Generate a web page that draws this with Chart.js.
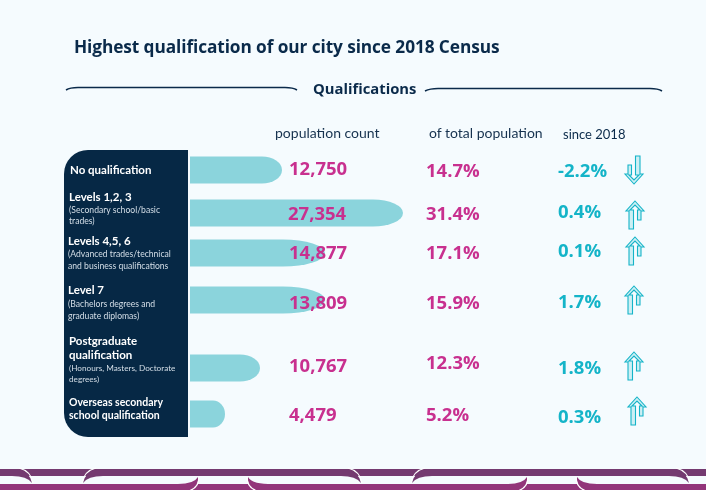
<!DOCTYPE html>
<html>
<head>
<meta charset="utf-8">
<script src="https://cdn.jsdelivr.net/npm/chart.js@4"></script>
<style>
  html, body { margin: 0; padding: 0; background: #f5fbfe; }
  #page { position: relative; width: 706px; height: 490px; overflow: hidden; font-family: Lato, sans-serif; }
  #panel { position: absolute; left: 64px; top: 150px; width: 124px; height: 287px; background: #062845; border-radius: 24px 0 0 24px; }
  canvas { position: absolute; left: 0; top: 0; }
  svg { position: absolute; left: 0; top: 0; }
  .t { position: absolute; white-space: nowrap; transform: translateY(-50%); line-height: 1; }
  .head { font-family: Lato, sans-serif; color: #16324f; font-size: 14px; }
  .name { color: #fff; font-weight: 700; font-size: 11.5px; }
  .note { color: #d5dfe8; font-size: 8.6px; }
  .num { font-family: "Open Sans", sans-serif; font-weight: 700; font-size: 18.5px; }
</style>
</head>
<body>
<div id="page">
  <div id="panel"></div>
  <canvas id="c" width="706" height="490"></canvas>
  <svg id="deco" width="706" height="490"></svg>
  <div id="texts"></div>
</div>
<script>
const title = 'Highest qualification of our city since 2018 Census';
const section = 'Qualifications';
const columnHeads = ['population count', 'of total population', 'since 2018'];
const categories = ['No qualification', 'Levels 1,2, 3', 'Levels 4,5, 6', 'Level 7', 'Postgraduate\nqualification', 'Overseas secondary\nschool qualification'];
const categoryNotes = ['', '(Secondary school/basic\ntrades)', '(Advanced trades/technical\nand business qualifications', '(Bachelors degrees and\ngraduate diplomas)', '(Honours, Masters, Doctorate\ndegrees)', ''];
const populationCounts = [12750, 27354, 14877, 13809, 10767, 4479];
const totalShares = [14.7, 31.4, 17.1, 15.9, 12.3, 5.2];
const changes = [-2.2, 0.4, 0.1, 1.7, 1.8, 0.3];
// bar lengths as drawn in the picture, they do not follow the printed counts exactly
const barLengths = [11815, 27354, 17337, 17337, 8990, 4495];

// layout of the rows, they are not evenly spaced in the original
const rowSlots = [20, 63, 103, 150, 218, 264];
const tipWidths = [20, 30, 42, 42, 20, 12];
const countTops = [168, 213, 252, 302, 365, 414];
const shareTops = [170, 213, 252, 302, 362, 414];
const changeTops = [170, 211, 250, 301, 367, 416];
const arrowTops = [170, 215, 251, 300, 366, 411];
const arrowLefts = [634, 635, 635, 634, 634, 637];
const nameTops = [[170], [197], [241], [290], [341, 355], [402, 415]];
const noteTops = [[], [210, 221], [254, 266], [304, 316], [368, 379], []];
const nameLefts = [70, 69, 68, 68, 69, 69];

const NAVY = '#0a2a4a', BAR = '#8bd4dc', PINK = '#c8308f', TEAL = '#14b4c8';

const tipBars = {
  id: 'tipBars',
  afterDatasetsDraw(chart) {
    const ctx = chart.ctx;
    chart.getDatasetMeta(0).data.forEach((bar, i) => {
      const rx = tipWidths[i], ry = bar.height / 2;
      ctx.beginPath();
      ctx.moveTo(bar.base, bar.y - ry);
      ctx.lineTo(bar.x - rx, bar.y - ry);
      ctx.ellipse(bar.x - rx, bar.y, rx, ry, 0, -Math.PI / 2, Math.PI / 2);
      ctx.lineTo(bar.base, bar.y + ry);
      ctx.closePath();
      ctx.fillStyle = BAR;
      ctx.fill();
    });
  }
};

new Chart(document.getElementById('c'), {
  type: 'bar',
  data: {
    datasets: [{
      data: barLengths.map((x, i) => ({ x: x, y: rowSlots[i] })),
      backgroundColor: 'transparent',
      barThickness: 27
    }]
  },
  options: {
    indexAxis: 'y',
    responsive: false,
    animation: false,
    events: [],
    layout: { padding: { left: 190, right: 303, top: 150, bottom: 53 } },
    plugins: { legend: { display: false }, title: { display: false }, tooltip: { enabled: false } },
    scales: {
      x: { type: 'linear', display: false, min: 0, max: 27354 },
      y: { type: 'linear', display: false, min: 0, max: 287, reverse: true, offset: false }
    }
  },
  plugins: [tipBars]
});

// text
const texts = document.getElementById('texts');
function put(str, x, y, cls, css) {
  const d = document.createElement('div');
  d.className = 't ' + cls;
  d.textContent = str;
  d.style.left = x + 'px';
  d.style.top = y + 'px';
  if (css) Object.assign(d.style, css);
  texts.appendChild(d);
}
put(title, 74, 47, '', { fontFamily: '"Open Sans"', fontWeight: 700, fontSize: '17.3px', color: NAVY, letterSpacing: '-0.1px' });
put(section, 313, 88, '', { fontFamily: '"Open Sans"', fontWeight: 700, fontSize: '14.8px', color: NAVY });
put(columnHeads[0], 275, 133, 'head');
put(columnHeads[1], 429, 133, 'head');
put(columnHeads[2], 563, 134, 'head', { fontSize: '13px', color: NAVY });

categories.forEach((name, i) => {
  const small = i === 5 ? { fontSize: '10.5px' } : null;
  name.split('\n').forEach((line, j) => put(line, nameLefts[i], nameTops[i][j], 'name', small));
  const noteCss = i === 4 ? { fontSize: '8.2px' } : null;
  if (categoryNotes[i]) categoryNotes[i].split('\n').forEach((line, j) => put(line, nameLefts[i], noteTops[i][j], 'note', noteCss));
  put(populationCounts[i].toLocaleString('en-US'), i === 1 ? 288 : 289, countTops[i], 'num', { color: PINK });
  put(totalShares[i].toFixed(1) + '%', 426, shareTops[i], 'num', { color: PINK });
  put(changes[i].toFixed(1) + '%', 558, changeTops[i], 'num', { color: TEAL });
});

// rules, arrows and the ribbon at the bottom
let svg = '';
svg += `<path d="M66 90 Q70 87.5 78 87.5 L285 87.5 Q293 87.5 297 90" fill="none" stroke="${NAVY}" stroke-width="1.6"/>`;
svg += `<path d="M425 91 Q430 88.5 438 88.5 L650 88.5 Q658 88.5 662 91" fill="none" stroke="${NAVY}" stroke-width="1.6"/>`;

changes.forEach((v, i) => {
  const rot = v < 0 ? 180 : 0;
  svg += `<g transform="translate(${arrowLefts[i]},${arrowTops[i]}) rotate(${rot})" fill="#cdeff4" stroke="${TEAL}" stroke-linejoin="miter">
    <path d="M0 -14 L9 -4 L6 -4 L6 5 L2.5 5 L2.5 -5 L5 -5 L0 -10 L-5 -5 L-1.5 -5 L-1.5 14 L-6 14 L-6 -4 L-9 -4 Z" stroke-width="1.1"/>
  </g>`;
});

const UP = '#743a70', LOW = '#92357a';
svg += `<rect x="0" y="469" width="706" height="7" fill="${UP}"/>`;
svg += `<rect x="0" y="484" width="706" height="6" fill="${LOW}"/>`;
[[-246, 32], [83, 361], [412, 689]].forEach(([l, r]) => {
  svg += `<path d="M${l} 483 Q${l + 2} 472 ${l + 15} 469 L${r - 15} 469 Q${r - 2} 472 ${r} 483 Q${r - 5} 476 ${r - 20} 476 L${l + 20} 476 Q${l + 5} 476 ${l} 483 Z" fill="${UP}"/>`;
  svg += `<path d="M${l - 1} 483 Q${l + 1} 471 ${l + 13} 468 M${r + 1} 483 Q${r - 1} 471 ${r - 13} 468" fill="none" stroke="#fff" stroke-width="1.2"/>`;
});
[[-81, 198], [248, 527], [577, 857]].forEach(([l, r]) => {
  svg += `<path d="M${l} 477 Q${l + 4} 484 ${l + 20} 484 L${r - 20} 484 Q${r - 4} 484 ${r} 477 Q${r + 1} 489 ${r - 10} 490 L${l + 10} 490 Q${l - 1} 489 ${l} 477 Z" fill="${LOW}"/>`;
  svg += `<path d="M${l - 1} 477 Q${l - 1} 487 ${l + 8} 490.5 M${r + 1} 477 Q${r + 1} 487 ${r - 8} 490.5" fill="none" stroke="#fff" stroke-width="1.2"/>`;
});
document.getElementById('deco').innerHTML = svg;
</script>
</body>
</html>
